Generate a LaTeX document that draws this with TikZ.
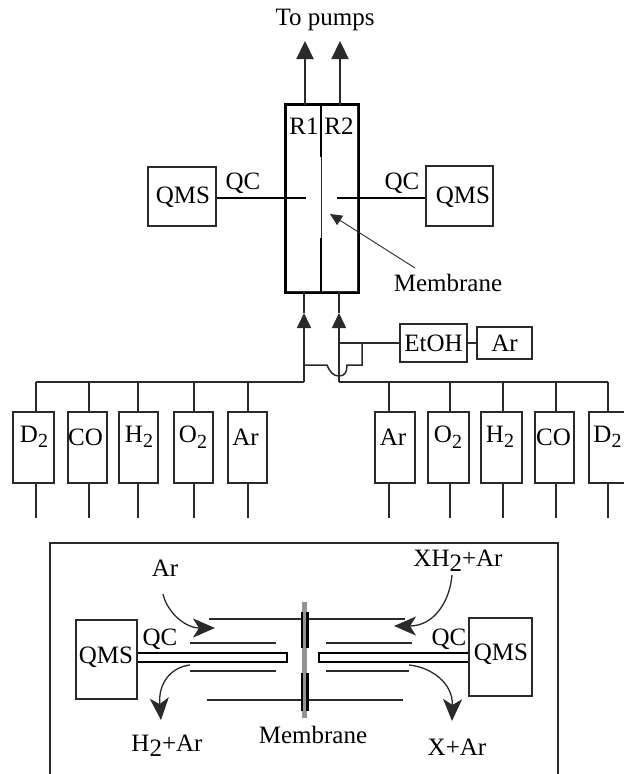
\documentclass[tikz,border=0pt]{standalone}
\usepackage{fontspec}
\setmainfont{Liberation Serif}
\usetikzlibrary{arrows.meta}
\definecolor{ink}{HTML}{2A2A2A}
\newcommand{\lowtwo}{\raisebox{-0.22em}{\fontsize{20}{20}\selectfont 2}}
\newcommand{\bigtwo}{\raisebox{-0.2em}{2}}
\newcommand{\bx}[6]{%
  \pgfmathsetmacro{\bxw}{#4-#2}\pgfmathsetmacro{\bxh}{#5-#3}%
  \pgfmathsetmacro{\bxx}{(#4+#2)/2}\pgfmathsetmacro{\bxy}{(#5+#3)/2}%
  \node[boxed,minimum width=\bxw pt,minimum height=\bxh pt] (#1) at (\bxx,\bxy) {#6};}
\tikzset{
  boxed/.style={draw=ink,line width=1.2pt,inner sep=0pt,font=\fontsize{25}{28}\selectfont,text=black},
  lbl/.style={inner sep=0pt,font=\fontsize{25}{28}\selectfont,text=black},
  thin line/.style={draw=ink,line width=1.2pt},
  pipe/.style={draw=ink,line width=1.5pt},
  heavy/.style={draw=black,line width=2.2pt},
  upflow/.style={draw=ink,line width=2.2pt,-{Triangle[length=18pt,width=17pt]}},
  feedflow/.style={draw=ink,line width=1.6pt,-{Triangle[length=15pt,width=14pt]}},
  curveflow/.style={draw=ink,line width=1.3pt,-{Stealth[length=22pt,width=19pt,inset=6pt]}},
  pointer/.style={draw=ink,line width=0.9pt,-{Triangle[length=12pt,width=11pt]}},
  gas/.style={draw=ink,line width=1.2pt},
}
\begin{document}
\begin{tikzpicture}[x=1pt,y=-1pt]
\clip (0,0) rectangle (624,774);
\fill[white] (0,0) rectangle (624,774);

% Upper reactor
\node[lbl] (pumps) at (325,20) {To pumps};
\bx{reactor}{286}{105}{358}{292}{}
\draw[heavy] (reactor.north west) rectangle (reactor.south east);
\coordinate (memT) at (321,105);
\coordinate (memA) at (321,157);
\coordinate (memB) at (321,238);
\coordinate (memC) at (321,292);
\draw[heavy] (memT) -- (memA);
\draw[heavy] (memB) -- (memC);
\draw[draw=ink,line width=0.9pt] (memA) -- (memB);
\node[lbl] (r1) at (304,126) {R1};
\node[lbl] (r2) at (339,126) {R2};
\coordinate (outL) at (305,105);
\coordinate (outR) at (340,105);
\coordinate (tipL) at (305,41);
\coordinate (tipR) at (340,41);
\draw[upflow] (outL) -- (tipL);
\draw[upflow] (outR) -- (tipR);

\bx{qmsL}{148}{167}{216}{226}{}
\bx{qmsR}{426}{166}{493}{226}{}
\node[lbl] (qmsLt) at (183,197) {QMS};
\node[lbl] (qmsRt) at (463,197) {QMS};
\coordinate (qcEndL) at (306,198);
\coordinate (qcEndR) at (337,198);
\draw[heavy] (qmsL.east |- qcEndL) -- (qcEndL);
\draw[heavy] (qmsR.west |- qcEndR) -- (qcEndR);
\node[lbl] (qcL) at (243,183) {QC};
\node[lbl] (qcR) at (402,183) {QC};
\node[lbl] (memlabel) at (448,283) {Membrane};
\coordinate (memTip) at (330,214);
\draw[pointer] (415,268) -- (memTip);

% Gas boxes
\foreach \n/\a/\b/\tx/\t in {
  dL/13/54/34/{D\lowtwo},cL/68/107/85.5/{CO},hL/119/158/139/{H\lowtwo},oL/174/213/193/{O\lowtwo},aL/228/267/245.5/{Ar},
  aR/375/415/393/{Ar},oR/428/469/448/{O\lowtwo},hR/481/522/500/{H\lowtwo},cR/535/574/553.5/{CO},dR/589/632/607.5/{D\lowtwo}}{
  \bx{\n}{\a}{412}{\b}{483}{}
  \node[lbl] (\n t) at (\tx,437) {\t};
}

\coordinate (busL) at (304,382);
\coordinate (busR) at (339,382);
\foreach \x in {36,89,138,194,248,389,450,503,556,608}{
  \draw[gas] (\x,382) -- (\x,412);
  \draw[gas] (\x,483) -- (\x,518);
}
\draw[pipe] (36,382) -- (busL);
\draw[pipe] (busR) -- (608,382);
\draw[feedflow] (busL) -- (304,313);
\draw[feedflow] (busR) -- (339,313);
\draw[pipe] (304,313) -- (304,292);
\draw[pipe] (339,313) -- (339,292);

% Crossover and saturator
\bx{etoh}{400}{324}{467}{362}{EtOH}
\bx{arS}{477}{327}{532}{359}{Ar}
\draw[thin line] (etoh.east) -- (arS.west);
\coordinate (teeT) at (339,343);
\draw[thin line] (teeT) -- (etoh.west |- teeT);
\draw[pipe] (304,365) -- (327,365) .. controls (330,372) and (333,376) .. (339,376)
  .. controls (345,376) and (347,372) .. (347,365) -- (362,365) -- (362,343);

% Lower inset
\draw[draw=ink,line width=1.2pt] (50,774) -- (50,543) -- (558,543) -- (558,774);
\bx{insL}{76}{620}{137}{699}{}
\bx{insR}{469}{618}{532}{696}{}
\node[lbl] (insLt) at (106,657) {QMS};
\node[lbl] (insRt) at (501,654) {QMS};
\draw[draw=black,line width=1.6pt] (insL.east |- 0,653) -- (287,653) -- (287,662) -- (insL.east |- 0,662);
\draw[draw=black,line width=1.6pt] (insR.west |- 0,653) -- (319,653) -- (319,662) -- (insR.west |- 0,662);
\draw[thin line] (190,643) -- (276,643);
\draw[thin line] (190,671) -- (276,671);
\draw[thin line] (326,643) -- (412,643);
\draw[thin line] (326,671) -- (409,671);
\draw[thin line] (209,619) -- (405,619);
\draw[thin line] (207,700) -- (403,700);
\draw[line width=5pt,draw=gray!85] (304,602) -- (304,718);
\foreach \a/\b in {612/648,673/711}{
  \draw[line width=2.2pt,draw=black] (302,\a) -- (302,\b);
  \draw[line width=2.2pt,draw=black] (307.5,\a) -- (307.5,\b);
}
\node[lbl] (arIn) at (165,568) {Ar};
\node[lbl] (xhIn) at (458,561) {XH\bigtwo+Ar};
\node[lbl] (hOut) at (167,746) {H\bigtwo+Ar};
\node[lbl] (xOut) at (457,747) {X+Ar};
\node[lbl] (memIn) at (313,735) {Membrane};
\node[lbl] (qcA) at (160,639) {QC};
\node[lbl] (qcB) at (449,639) {QC};
\draw[curveflow] (163,594) .. controls (167,612) and (185,628) .. (215,628);
\draw[curveflow] (452,575) .. controls (450,600) and (435,626) .. (394,626);
\draw[curveflow] (190,665) .. controls (172,667) and (158,682) .. (161,720);
\draw[curveflow] (409,665) .. controls (430,667) and (453,682) .. (452,721);
\end{tikzpicture}
\end{document}
